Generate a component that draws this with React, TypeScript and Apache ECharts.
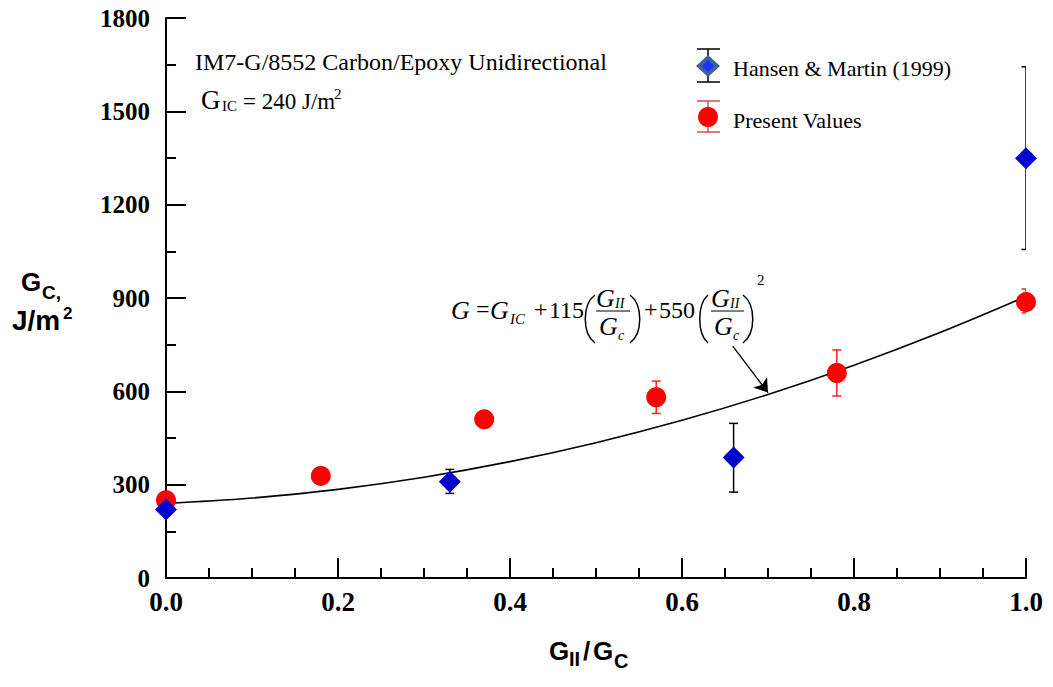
import React, { useEffect, useRef } from "react";
import * as echarts from "echarts";

// ---- data ----
const HM_X = [0, 0.33, 0.66, 1.0];
const HM_Y = [220, 309, 387, 1349];
const HM_LO: (number | null)[] = [null, 272, 276, 1056];
const HM_HI: (number | null)[] = [null, 349, 497, 1643];

const PV_X = [0, 0.18, 0.37, 0.57, 0.78, 1.0];
const PV_Y = [250, 328, 510, 581, 659, 887];
const PV_LO: (number | null)[] = [null, null, null, 529, 585, 852];
const PV_HI: (number | null)[] = [null, null, null, 633, 733, 929];

const FIT_X = [0, 0.1, 0.2, 0.3, 0.4, 0.5, 0.6, 0.7, 0.8, 0.9, 1.0];
const FIT_Y = [240, 257, 285, 324, 374, 435, 507, 590, 684, 789, 905];

const X_MIN = 0, X_MAX = 1, X_STEP = 0.2;
const Y_MIN = 0, Y_MAX = 1800, Y_STEP = 300;

// arrow annotation from formula to curve (data coordinates)
const ARROW_FROM = [0.659, 745];
const ARROW_TO = [0.7, 596];

const SERIF = '"Liberation Serif", "Times New Roman", serif';
const SANS = '"Liberation Sans", Arial, sans-serif';

function txt(x: number, y: number, text: string, font: string, extra: any = {}) {
  return {
    type: "text",
    x,
    y,
    silent: true,
    z: 100,
    style: {
      text,
      font,
      fill: "#000",
      textVerticalAlign: "middle",
      verticalAlign: "middle",
      ...extra,
    },
  };
}

function ln(x1: number, y1: number, x2: number, y2: number, stroke = "#000", lineWidth = 1.5) {
  return { type: "line", silent: true, z: 100, shape: { x1, y1, x2, y2 }, style: { stroke, lineWidth } };
}

function paren(xEnd: number, xMid: number, top: number, bottom: number) {
  const h = bottom - top;
  return {
    type: "bezierCurve",
    silent: true,
    z: 100,
    shape: {
      x1: xEnd, y1: top,
      cpx1: xMid, cpy1: top + h * 0.2,
      cpx2: xMid, cpy2: bottom - h * 0.2,
      x2: xEnd, y2: bottom,
    },
    style: { stroke: "#000", lineWidth: 1.5, fill: null },
  };
}

function errData(xs: number[], lo: (number | null)[], hi: (number | null)[]) {
  const out: number[][] = [];
  xs.forEach((x, i) => {
    if (lo[i] != null && hi[i] != null) out.push([x, lo[i] as number, hi[i] as number]);
  });
  return out;
}

function errSeries(data: number[][], color: string, width: number) {
  return {
    type: "custom",
    clip: true,
    z: 3,
    silent: true,
    data,
    renderItem: (params: any, api: any) => {
      const x = api.value(0);
      const pLo = api.coord([x, api.value(1)]);
      const pHi = api.coord([x, api.value(2)]);
      const cs = params.coordSys;
      const hw = 4.5;
      const l = Math.max(pLo[0] - hw, cs.x);
      const r = Math.min(pLo[0] + hw, cs.x + cs.width);
      const st = { stroke: color, lineWidth: width };
      return {
        type: "group",
        children: [
          { type: "line", shape: { x1: pLo[0], y1: pLo[1], x2: pHi[0], y2: pHi[1] }, style: st },
          { type: "line", shape: { x1: l, y1: pLo[1], x2: r, y2: pLo[1] }, style: st },
          { type: "line", shape: { x1: l, y1: pHi[1], x2: r, y2: pHi[1] }, style: st },
        ],
      };
    },
  };
}

export default function App() {
  const ref = useRef<HTMLDivElement>(null);

  useEffect(() => {
    if (!ref.current) return;
    const chart = echarts.init(ref.current, null, { renderer: "svg" });

    const axisLabelX = {
      fontFamily: SERIF,
      fontWeight: "bold",
      fontSize: 27,
      color: "#000",
      margin: 10,
      formatter: (v: number) => v.toFixed(1),
    };
    const axisLabelY = {
      fontFamily: SERIF,
      fontWeight: "bold",
      fontSize: 25,
      color: "#000",
      margin: 16,
      formatter: (v: number) => String(v),
    };

    const GI = `italic 26px ${SERIF}`;
    const graphic: any[] = [
      // annotation
      txt(195, 62, "IM7-G/8552 Carbon/Epoxy Unidirectional", `24px ${SERIF}`),
      txt(201, 100, "G", `27px ${SERIF}`),
      txt(222, 106, "IC", `15px ${SERIF}`),
      txt(243, 101, "= 240 J/m", `23px ${SERIF}`),
      txt(334, 94, "2", `15px ${SERIF}`),

      // legend
      ln(708, 49, 708, 82, "#000", 1.5),
      ln(697, 49, 720, 49, "#000", 1.5),
      ln(697, 82, 720, 82, "#000", 1.5),
      {
        type: "polygon", silent: true, z: 101,
        shape: { points: [[708, 55], [720, 66], [708, 77], [696, 66]] },
        style: { fill: "#3f5fa0" },
      },
      {
        type: "polygon", silent: true, z: 102,
        shape: { points: [[708, 60], [714, 66], [708, 72], [702, 66]] },
        style: { fill: "#1f2fff" },
      },
      txt(733, 68, "Hansen & Martin (1999)", `22px ${SERIF}`),
      ln(708, 101, 708, 132, "#d05050", 1.5),
      ln(697, 101, 720, 101, "#d05050", 1.5),
      ln(697, 132, 720, 132, "#d05050", 1.5),
      { type: "circle", silent: true, z: 101, shape: { cx: 708, cy: 117, r: 10 }, style: { fill: "#ff0000" } },
      txt(733, 120, "Present Values", `22px ${SERIF}`),

      // formula
      txt(451, 310, "G", GI),
      txt(476, 309, "=", `24px ${SERIF}`),
      txt(490, 310, "G", GI),
      txt(510, 319, "IC", `italic 15px ${SERIF}`),
      txt(534, 309, "+", `24px ${SERIF}`),
      txt(549, 310, "115", `24px ${SERIF}`),
      paren(595, 582, 295, 343),
      txt(596, 298, "G", GI),
      txt(615, 303, "II", `italic 14px ${SERIF}`),
      ln(596, 311, 630, 311, "#000", 1.2),
      txt(599, 326, "G", GI),
      txt(618, 335, "c", `italic 14px ${SERIF}`),
      paren(630, 643, 295, 343),
      txt(644, 309, "+", `24px ${SERIF}`),
      txt(659, 310, "550", `24px ${SERIF}`),
      paren(708, 697, 295, 343),
      txt(711, 298, "G", GI),
      txt(730, 303, "II", `italic 14px ${SERIF}`),
      ln(711, 311, 744, 311, "#000", 1.2),
      txt(714, 326, "G", GI),
      txt(733, 335, "c", `italic 14px ${SERIF}`),
      paren(743, 756, 295, 343),
      txt(757, 280, "2", `15px ${SERIF}`),

      // y axis title
      txt(21, 282, "G", `bold 26px ${SANS}`),
      txt(42, 292, "C,", `bold 19px ${SANS}`),
      txt(12, 320, "J/m", `bold 28px ${SANS}`),
      txt(63, 313, "2", `bold 17px ${SANS}`),

      // x axis title
      txt(549, 651, "G", `bold 26px ${SANS}`),
      txt(569, 659, "II", `bold 20px ${SANS}`),
      txt(583, 651, "/", `bold 26px ${SANS}`),
      txt(593, 651, "G", `bold 26px ${SANS}`),
      txt(614, 661, "C", `bold 20px ${SANS}`),
    ];

    chart.setOption({
      animation: false,
      backgroundColor: "#fff",
      grid: { left: 166, right: 27, top: 18, bottom: 109, containLabel: false },
      xAxis: {
        type: "value",
        min: X_MIN,
        max: X_MAX,
        interval: X_STEP,
        axisLine: { show: true, onZero: false, lineStyle: { color: "#000", width: 2 } },
        axisTick: { show: true, inside: true, length: 20, lineStyle: { color: "#000", width: 2 } },
        minorTick: { show: true, splitNumber: 4, length: 10, lineStyle: { color: "#000", width: 2 } },
        splitLine: { show: false },
        axisLabel: axisLabelX,
      },
      yAxis: {
        type: "value",
        min: Y_MIN,
        max: Y_MAX,
        interval: Y_STEP,
        axisLine: { show: true, onZero: false, lineStyle: { color: "#000", width: 2 } },
        axisTick: { show: true, inside: true, length: 20, lineStyle: { color: "#000", width: 2 } },
        minorTick: { show: true, splitNumber: 2, length: 10, lineStyle: { color: "#000", width: 2 } },
        splitLine: { show: false },
        axisLabel: axisLabelY,
      },
      graphic,
      series: [
        {
          type: "line",
          name: "fit",
          data: FIT_X.map((x, i) => [x, FIT_Y[i]]),
          smooth: 0.4,
          showSymbol: false,
          symbol: "none",
          z: 2,
          silent: true,
          lineStyle: { color: "#000", width: 1.6 },
          markLine: {
            silent: true,
            symbol: ["none", "arrow"],
            symbolSize: 13,
            label: { show: false },
            lineStyle: { color: "#000", width: 1.3, type: "solid" },
            data: [[{ coord: ARROW_FROM }, { coord: ARROW_TO }]],
          },
        },
        errSeries(errData(HM_X, HM_LO, HM_HI), "#000", 1.5),
        errSeries(errData(PV_X, PV_LO, PV_HI), "#ff2020", 1.5),
        {
          type: "scatter",
          name: "Present Values",
          data: PV_X.map((x, i) => [x, PV_Y[i]]),
          symbol: "circle",
          symbolSize: 20,
          itemStyle: { color: "#ff0000", opacity: 1 },
          z: 5,
          silent: true,
        },
        {
          type: "scatter",
          name: "Hansen & Martin (1999)",
          data: HM_X.map((x, i) => [x, HM_Y[i]]),
          symbol: "diamond",
          symbolSize: [22, 22],
          itemStyle: { color: "#0000cc", opacity: 1 },
          z: 6,
          silent: true,
        },
      ],
    });

    return () => chart.dispose();
  }, []);

  return (
    <div
      ref={ref}
      style={{ position: "absolute", left: 0, top: 0, width: 1053, height: 687, background: "#fff" }}
    />
  );
}
